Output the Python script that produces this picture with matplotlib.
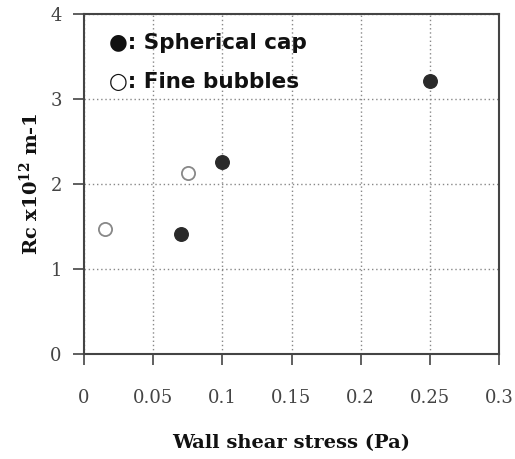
import matplotlib
matplotlib.use("Agg")
import matplotlib.pyplot as plt

spherical_x = [0.07, 0.10, 0.25]
spherical_y = [1.41, 2.26, 3.21]
fine_x = [0.015, 0.075]
fine_y = [1.47, 2.13]
xticks = [0, 0.05, 0.1, 0.15, 0.2, 0.25, 0.3]
xtick_labels = ["0", "0.05", "0.1", "0.15", "0.2", "0.25", "0.3"]
yticks = [0, 1, 2, 3, 4]

fig = plt.figure(figsize=(5.15, 4.59), dpi=100)
ax = fig.add_axes([84/515, 1-354/459, 415/515, 340/459])

ax.scatter(spherical_x, spherical_y, s=95, facecolor="#2a2a2a", edgecolor="#2a2a2a", zorder=3)
ax.scatter(fine_x, fine_y, s=90, facecolor="white", edgecolor="#888888", linewidth=1.3, zorder=3)

ax.set_xlim(0, 0.3)
ax.set_ylim(0, 4)
ax.set_xticks(xticks)
ax.set_xticklabels(xtick_labels)
ax.set_yticks(yticks)
ax.grid(True, linestyle=(0, (1, 2)), color="#888888", linewidth=1.0)
for s in ax.spines.values():
    s.set_color("#444444")
    s.set_linewidth(1.5)
ax.tick_params(direction="out", length=8, width=1.2, color="#444444", labelsize=13,
               labelcolor="#444444", pad=8)
for lab in ax.get_xticklabels() + ax.get_yticklabels():
    lab.set_family("DejaVu Serif")
    lab.set_fontweight("light")
ax.tick_params(axis="x", pad=17)

ax.set_xlabel("Wall shear stress (Pa)", family="DejaVu Serif", fontweight="bold",
              fontsize=14, labelpad=20, color="#111111")
ax.set_ylabel(r"Rc x10$^{\mathregular{12}}$ m-1", family="DejaVu Serif", fontweight="bold",
              fontsize=14, labelpad=6, color="#111111")

ax.text(0.06, 0.915, "\u25CF: Spherical cap", transform=ax.transAxes, fontsize=15.5,
        fontweight="bold", family=["DejaVu Sans"], va="center", color="#111111")
ax.text(0.06, 0.80, "\u25CB: Fine bubbles", transform=ax.transAxes, fontsize=15.5,
        fontweight="bold", family=["DejaVu Sans"], va="center", color="#111111")

fig.savefig("out.png", dpi=100)
